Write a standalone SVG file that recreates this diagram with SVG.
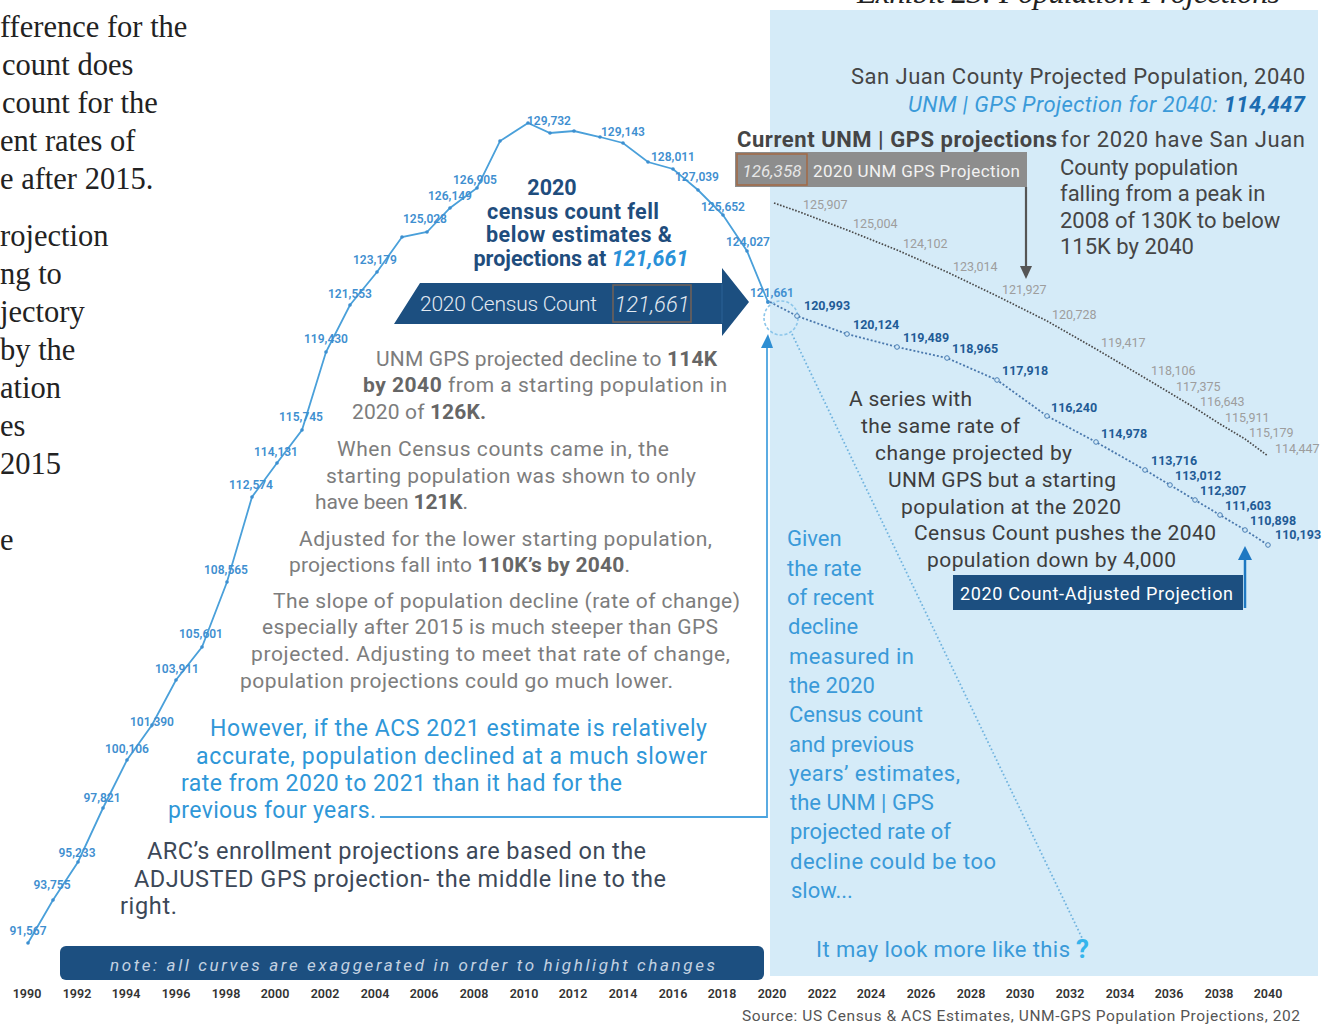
<svg xmlns="http://www.w3.org/2000/svg" width="1330" height="1026" viewBox="0 0 1330 1026">
<defs>
<style>
.ser{font-family:"Liberation Serif",serif;font-size:30.5px;fill:#222}
.lab{font-family:Roboto,"Liberation Sans",sans-serif;font-weight:600;font-size:12px;fill:#3f8fd0;text-anchor:middle}
.glab{font-family:Roboto,"Liberation Sans",sans-serif;font-size:12.5px;fill:#9d9d9d}
.blab{font-family:Roboto,"Liberation Sans",sans-serif;font-weight:700;font-size:12.5px;fill:#1f5b96}
.gray{font-family:Roboto,"Liberation Sans",sans-serif;font-size:21px;fill:#7d7d7d}
.gb{font-weight:700;fill:#666}
.blue{font-family:Roboto,"Liberation Sans",sans-serif;font-size:23px;fill:#2f97d8}
.dark{font-family:Roboto,"Liberation Sans",sans-serif;font-size:23.5px;fill:#3c4858}
.head{font-family:Roboto,"Liberation Sans",sans-serif;font-weight:700;font-size:21.5px;fill:#1f4d7d;text-anchor:middle}
.rt{font-family:Roboto,"Liberation Sans",sans-serif;font-size:22px;fill:#454545}
.rb{font-family:Roboto,"Liberation Sans",sans-serif;font-size:22px;fill:#3a9ad9}
.ser2{font-family:Roboto,"Liberation Sans",sans-serif;font-size:21px;fill:#3d3d3d}
.yr{font-family:Roboto,"Liberation Sans",sans-serif;font-weight:600;font-size:12.5px;fill:#333;text-anchor:middle}
.dot{fill:#3d8fd0}
.hol{fill:#d5ebf8;stroke:#4a7fb5;stroke-width:1}
</style>
</defs>
<rect x="0" y="0" width="1330" height="1026" fill="#ffffff"/>

<g id="panel">
<rect x="770" y="10" width="548" height="966" fill="#d5ebf8"/>
</g>

<g id="title">
<text x="857" y="3" font-family="Liberation Serif,serif" font-style="italic" font-size="32" fill="#222" textLength="423">Exhibit 23: Population Projections</text>
</g>

<g id="left-paragraph" class="ser">
<text x="0" y="37">fference for the</text>
<text x="2" y="75">count does</text>
<text x="2" y="113">count for the</text>
<text x="0" y="151">ent rates of</text>
<text x="0" y="189">e after 2015.</text>
<text x="0" y="246">rojection</text>
<text x="0" y="284">ng to</text>
<text x="0" y="322">jectory</text>
<text x="0" y="360"> by the</text>
<text x="0" y="398">ation</text>
<text x="0" y="436">es</text>
<text x="0" y="474">2015</text>
<text x="0" y="550">e</text>
</g>

<g id="connectors" fill="none">
<polyline stroke="#4aa0da" stroke-width="1.8" points="28,943 53,900 78,862 103,808 127,760 152,725 176,680 202,647 227,582 252,497 277,463 302,430 326,352 350,305 377,272 402,237 427,232 450,208 477,188 500,141 528,123 550,133 574,131 600,137 623,143 648,162 673,169 698,190 723,215 747,251 768,302"/>
<polyline stroke="#4a4a4a" stroke-width="1.7" stroke-dasharray="1.6 1.6" points="774,203 797,211 847,230 897,250 947,272 997,296 1047,321 1096,349 1145,378 1170,393 1195,408 1220,424 1245,439 1268,456"/>
<polyline stroke="#4a78ad" stroke-width="1.8" stroke-dasharray="2 2" points="770,302 797,316 847,334 897,347 947,358 997,380 1047,416 1096,442 1145,470 1170,485 1195,500 1220,515 1245,530 1268,545"/>
<line x1="792" y1="334" x2="1083" y2="940" stroke="#6fb3df" stroke-width="1.8" stroke-dasharray="1.6 2.4"/>
<circle cx="781" cy="318" r="17" stroke="#8cc6ea" stroke-width="1.6" stroke-dasharray="3 2"/>
<path d="M380,817 H767 V347" stroke="#4aa3df" stroke-width="1.8"/>
<polygon points="761,348 773,348 768,334" fill="#2f8fd3"/>
<line x1="1026" y1="187" x2="1026" y2="268" stroke="#555" stroke-width="2.2"/>
<polygon points="1020,266 1032,266 1026,279" fill="#555"/>
<line x1="1245" y1="608" x2="1245" y2="557" stroke="#1e78c2" stroke-width="2.5"/>
<polygon points="1238,560 1252,560 1245,546" fill="#1e78c2"/>
</g>

<g id="main-dots">
<circle class="dot" cx="28" cy="943" r="1.8"/><circle class="dot" cx="53" cy="900" r="1.8"/><circle class="dot" cx="78" cy="862" r="1.8"/><circle class="dot" cx="103" cy="808" r="1.8"/><circle class="dot" cx="127" cy="760" r="1.8"/><circle class="dot" cx="152" cy="725" r="1.8"/><circle class="dot" cx="176" cy="680" r="1.8"/><circle class="dot" cx="202" cy="647" r="1.8"/><circle class="dot" cx="227" cy="582" r="1.8"/><circle class="dot" cx="252" cy="497" r="1.8"/><circle class="dot" cx="277" cy="463" r="1.8"/><circle class="dot" cx="302" cy="430" r="1.8"/><circle class="dot" cx="326" cy="352" r="1.8"/><circle class="dot" cx="350" cy="305" r="1.8"/><circle class="dot" cx="377" cy="272" r="1.8"/><circle class="dot" cx="402" cy="237" r="1.8"/><circle class="dot" cx="427" cy="232" r="1.8"/><circle class="dot" cx="450" cy="208" r="1.8"/><circle class="dot" cx="477" cy="188" r="1.8"/><circle class="dot" cx="500" cy="141" r="1.8"/><circle class="dot" cx="528" cy="123" r="1.8"/><circle class="dot" cx="550" cy="133" r="1.8"/><circle class="dot" cx="574" cy="131" r="1.8"/><circle class="dot" cx="600" cy="137" r="1.8"/><circle class="dot" cx="623" cy="143" r="1.8"/><circle class="dot" cx="648" cy="162" r="1.8"/><circle class="dot" cx="673" cy="169" r="1.8"/><circle class="dot" cx="698" cy="190" r="1.8"/><circle class="dot" cx="723" cy="215" r="1.8"/><circle class="dot" cx="747" cy="251" r="1.8"/><circle class="dot" cx="768" cy="302" r="2"/>
<circle class="hol" cx="797" cy="316" r="2.3"/><circle class="hol" cx="847" cy="334" r="2.3"/><circle class="hol" cx="897" cy="347" r="2.3"/><circle class="hol" cx="947" cy="358" r="2.3"/><circle class="hol" cx="997" cy="380" r="2.3"/><circle class="hol" cx="1047" cy="416" r="2.3"/><circle class="hol" cx="1096" cy="442" r="2.3"/><circle class="hol" cx="1145" cy="470" r="2.3"/><circle class="hol" cx="1170" cy="485" r="2.3"/><circle class="hol" cx="1195" cy="500" r="2.3"/><circle class="hol" cx="1220" cy="515" r="2.3"/><circle class="hol" cx="1245" cy="530" r="2.3"/><circle class="hol" cx="1268" cy="545" r="2.3"/>
</g>

<g id="main-labels" class="lab">
<text x="28" y="935">91,567</text>
<text x="52" y="889">93,755</text>
<text x="77" y="857">95,233</text>
<text x="102" y="802">97,821</text>
<text x="127" y="753">100,106</text>
<text x="152" y="726">101,390</text>
<text x="177" y="673">103,911</text>
<text x="201" y="638">105,601</text>
<text x="226" y="574">108,565</text>
<text x="251" y="489">112,574</text>
<text x="276" y="456">114,131</text>
<text x="301" y="421">115,745</text>
<text x="326" y="343">119,430</text>
<text x="350" y="298">121,553</text>
<text x="375" y="264">123,179</text>
<text x="425" y="223">125,028</text>
<text x="450" y="200">126,149</text>
<text x="475" y="184">126,905</text>
<text x="549" y="125">129,732</text>
<text x="623" y="136">129,143</text>
<text x="673" y="161">128,011</text>
<text x="697" y="181">127,039</text>
<text x="723" y="211">125,652</text>
<text x="748" y="246">124,027</text>
<text x="772" y="297">121,661</text>
</g>

<g id="gps-labels" class="glab">
<text x="803" y="209">125,907</text>
<text x="853" y="228">125,004</text>
<text x="903" y="248">124,102</text>
<text x="953" y="271">123,014</text>
<text x="1002" y="294">121,927</text>
<text x="1052" y="319">120,728</text>
<text x="1101" y="347">119,417</text>
<text x="1151" y="375">118,106</text>
<text x="1176" y="391">117,375</text>
<text x="1200" y="406">116,643</text>
<text x="1225" y="422">115,911</text>
<text x="1249" y="437">115,179</text>
<text x="1275" y="453">114,447</text>
</g>

<g id="adjusted-labels" class="blab">
<text x="804" y="310">120,993</text>
<text x="853" y="329">120,124</text>
<text x="903" y="342">119,489</text>
<text x="952" y="353">118,965</text>
<text x="1002" y="375">117,918</text>
<text x="1051" y="412">116,240</text>
<text x="1101" y="438">114,978</text>
<text x="1151" y="465">113,716</text>
<text x="1175" y="480">113,012</text>
<text x="1200" y="495">112,307</text>
<text x="1225" y="510">111,603</text>
<text x="1250" y="525">110,898</text>
<text x="1275" y="539">110,193</text>
</g>

<g id="headline">
<text class="head" x="552" y="195" font-size="23">2020</text>
<text class="head" x="573" y="219" textLength="172">census count fell</text>
<text class="head" x="579" y="242" textLength="186">below estimates &amp;</text>
<text class="head" x="581" y="266" textLength="215">projections at <tspan fill="#2a91d8" font-style="italic">121,661</tspan></text>
</g>

<g id="census-arrow">
<path d="M420,283 L722,283 L722,268 L749,302 L722,336 L722,324 L394,324 Z" fill="#1c4f80"/>
<line x1="722" y1="284" x2="722" y2="323" stroke="#2b6296" stroke-width="1"/>
<text x="420" y="311" font-family="Roboto,'Liberation Sans',sans-serif" font-size="21" font-weight="300" fill="#e2e9f1" textLength="177">2020 Census Count</text>
<rect x="613" y="285" width="78" height="37" fill="none" stroke="#6e6058" stroke-width="1.6"/>
<text x="652" y="312" font-family="Roboto,'Liberation Sans',sans-serif" font-size="22" font-style="italic" font-weight="300" fill="#e2e9f1" text-anchor="middle">121,661</text>
</g>

<g id="gray-text" class="gray">
<text x="376" y="366" textLength="341">UNM GPS projected decline to <tspan class="gb">114K</tspan></text>
<text x="363" y="392" textLength="364"><tspan class="gb">by 2040</tspan> from a starting population in</text>
<text x="352" y="419" textLength="134">2020 of <tspan class="gb">126K.</tspan></text>
<text x="337" y="456" textLength="332">When Census counts came in, the</text>
<text x="326" y="483" textLength="370">starting population was shown to only</text>
<text x="315" y="509" textLength="153">have been <tspan class="gb">121K</tspan>.</text>
<text x="299" y="546" textLength="413">Adjusted for the lower starting population,</text>
<text x="289" y="572" textLength="341">projections fall into <tspan class="gb">110K’s by 2040</tspan>.</text>
<text x="273" y="608" textLength="467">The slope of population decline (rate of change)</text>
<text x="262" y="634" textLength="456">especially after 2015 is much steeper than GPS</text>
<text x="251" y="661" textLength="479">projected. Adjusting to meet that rate of change,</text>
<text x="240" y="688" textLength="433">population projections could go much lower.</text>
</g>

<g id="blue-text" class="blue">
<text x="210" y="736" textLength="497">However, if the ACS 2021 estimate is relatively</text>
<text x="196" y="764" textLength="511">accurate, population declined at a much slower</text>
<text x="181" y="791" textLength="441">rate from 2020 to 2021 than it had for the</text>
<text x="168" y="818" textLength="208">previous four years.</text>
</g>

<g id="arc-text" class="dark">
<text x="147" y="859" textLength="499">ARC’s enrollment projections are based on the</text>
<text x="134" y="887" textLength="532">ADJUSTED GPS projection- the middle line to the</text>
<text x="120" y="914" textLength="57">right.</text>
</g>

<g id="note-bar">
<rect x="60" y="946" width="704" height="34" rx="6" fill="#1c4f80"/>
<text x="110" y="971" font-family="Roboto,'Liberation Sans',sans-serif" font-size="17" font-style="italic" fill="#c3d2e2" textLength="605">note: all curves are exaggerated in order to highlight changes</text>
</g>

<g id="years" class="yr">
<text x="27" y="998">1990</text><text x="77" y="998">1992</text><text x="126" y="998">1994</text><text x="176" y="998">1996</text><text x="226" y="998">1998</text><text x="275" y="998">2000</text><text x="325" y="998">2002</text><text x="375" y="998">2004</text><text x="424" y="998">2006</text><text x="474" y="998">2008</text><text x="524" y="998">2010</text><text x="573" y="998">2012</text><text x="623" y="998">2014</text><text x="673" y="998">2016</text><text x="722" y="998">2018</text><text x="772" y="998">2020</text><text x="822" y="998">2022</text><text x="871" y="998">2024</text><text x="921" y="998">2026</text><text x="971" y="998">2028</text><text x="1020" y="998">2030</text><text x="1070" y="998">2032</text><text x="1120" y="998">2034</text><text x="1169" y="998">2036</text><text x="1219" y="998">2038</text><text x="1268" y="998">2040</text>
</g>

<g id="source">
<text x="1300" y="1021" font-family="Roboto,'Liberation Sans',sans-serif" font-size="15.5" fill="#555" text-anchor="end" textLength="558">Source: US Census &amp; ACS Estimates, UNM-GPS Population Projections, 202</text>
</g>

<g id="panel-header">
<text class="rt" x="1305" y="84" text-anchor="end" textLength="454">San Juan County Projected Population, 2040</text>
<text class="rb" x="1305" y="112" text-anchor="end" font-style="italic" textLength="397">UNM | GPS Projection for 2040:  <tspan font-weight="700" fill="#1c6cb0">114,447</tspan></text>
</g>

<g id="current-note">
<text class="rt" x="737" y="147" font-weight="700" fill="#3a3a3a" textLength="320">Current UNM | GPS projections</text>
<text class="rt" x="1061" y="147" textLength="244">for 2020  have San Juan</text>
<text class="rt" x="1060" y="175">County population</text>
<text class="rt" x="1060" y="201">falling from a peak in</text>
<text class="rt" x="1060" y="228">2008 of 130K to below</text>
<text class="rt" x="1060" y="254">115K by 2040</text>
</g>

<g id="gps-box">
<rect x="735" y="152" width="292" height="35" fill="#8d8d8d"/>
<rect x="737" y="154" width="70" height="31" fill="#8d8d8d" stroke="#a36a45" stroke-width="1.5"/>
<text x="772" y="177" font-family="Roboto,'Liberation Sans',sans-serif" font-size="17" font-style="italic" fill="#e6e6e6" text-anchor="middle">126,358</text>
<text x="813" y="177" font-family="Roboto,'Liberation Sans',sans-serif" font-size="17" fill="#f2f2f2" textLength="207">2020 UNM GPS Projection</text>
</g>

<g id="series-note" class="ser2">
<text x="849" y="406" textLength="123">A series with</text>
<text x="861" y="433" textLength="159">the same rate of</text>
<text x="875" y="460" textLength="197">change projected by</text>
<text x="888" y="487" textLength="228">UNM GPS but a starting</text>
<text x="901" y="514" textLength="220">population at the 2020</text>
<text x="914" y="540" textLength="302">Census Count pushes the 2040</text>
<text x="927" y="567" textLength="249">population down by 4,000</text>
</g>

<g id="adjusted-box">
<rect x="953" y="575" width="290" height="35" fill="#1c4f80"/>
<text x="960" y="600" font-family="Roboto,'Liberation Sans',sans-serif" font-size="18" fill="#ffffff" textLength="273">2020 Count-Adjusted Projection</text>
</g>

<g id="given-note" class="rb">
<text x="787" y="546">Given</text>
<text x="787" y="576">the rate</text>
<text x="787" y="605">of recent</text>
<text x="788" y="634">decline</text>
<text x="789" y="664" textLength="125">measured in</text>
<text x="789" y="693">the 2020</text>
<text x="789" y="722">Census count</text>
<text x="789" y="752">and previous</text>
<text x="789" y="781" textLength="171">years’ estimates,</text>
<text x="790" y="810">the UNM | GPS</text>
<text x="790" y="839">projected rate of</text>
<text x="790" y="869" textLength="206">decline could be too</text>
<text x="791" y="898">slow...</text>
</g>

<g id="look-note">
<text class="rb" x="816" y="957" textLength="254">It may look more like this</text>
<text x="1076" y="958" font-family="Roboto,'Liberation Sans',sans-serif" font-size="26" font-weight="700" fill="#35b5ec">?</text>
</g>
</svg>
